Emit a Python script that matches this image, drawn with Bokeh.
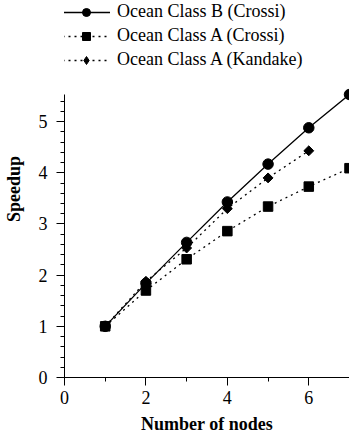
import math
from bokeh.plotting import figure
from bokeh.models import Legend, LegendItem, SingleIntervalTicker, Range1d
from bokeh.embed import file_html
from bokeh.resources import INLINE

nodes = [1, 2, 3, 4, 5, 6, 7]
b_crossi = [1.0, 1.84, 2.64, 3.43, 4.17, 4.88, 5.53]
a_crossi = [1.0, 1.70, 2.31, 2.86, 3.34, 3.73, 4.09]
nodes_k = [1, 2, 3, 4, 5, 6]
a_kandake = [1.0, 1.88, 2.53, 3.30, 3.90, 4.43]
y_axis_top = 5.53

FONT = "Liberation Serif"

p = figure(width=349, height=436, output_backend="svg", toolbar_location=None,
           x_range=Range1d(0, 7), y_range=Range1d(0, y_axis_top * 381 / 286),
           min_border_left=62, min_border_right=0, min_border_top=0, min_border_bottom=55)
p.outline_line_color = None
p.xgrid.visible = False
p.ygrid.visible = False

r1l = p.line(nodes, b_crossi, line_color="black", line_width=1.3)
r1m = p.scatter(nodes, b_crossi, marker="circle", size=10.5, color="black")
r2l = p.line(nodes, a_crossi, line_color="black", line_width=1.3, line_dash="2 4")
r2m = p.scatter(nodes, a_crossi, marker="square", size=9.5, color="black")
r3l = p.line(nodes_k, a_kandake, line_color="black", line_width=1.3, line_dash="2 4")
r3m = p.scatter(nodes_k, a_kandake, marker="square", size=7, angle=math.pi / 4, color="black")
# diamond glyph used only for the legend key (legend keys ignore marker angle)
r3k = p.scatter(nodes_k, a_kandake, marker="diamond", size=10, color="black", visible=False)

p.xaxis.ticker = SingleIntervalTicker(interval=2, num_minor_ticks=2)
p.yaxis.ticker = SingleIntervalTicker(interval=1, num_minor_ticks=5)
p.yaxis.bounds = (0, y_axis_top)
for ax in (p.xaxis[0], p.yaxis[0]):
    ax.axis_line_color = "black"
    ax.major_tick_line_color = "black"
    ax.minor_tick_line_color = "black"
    ax.major_tick_out = 8
    ax.major_tick_in = 0
    ax.minor_tick_out = 4
    ax.minor_tick_in = 0
    ax.major_label_text_font = FONT
    ax.major_label_text_font_size = "18px"
    ax.major_label_text_color = "black"
    ax.axis_label_text_font = FONT
    ax.axis_label_text_font_size = "18px"
    ax.axis_label_text_font_style = "bold"
    ax.axis_label_text_color = "black"
p.xaxis.axis_label = "Number of nodes"
p.yaxis.axis_label = "Speedup"
p.yaxis.major_label_standoff = 9
p.xaxis.major_label_standoff = 5
p.yaxis.axis_label_standoff = 12
p.xaxis.axis_label_standoff = 7

legend = Legend(items=[
    LegendItem(label="Ocean Class B (Crossi)", renderers=[r1l, r1m]),
    LegendItem(label="Ocean Class A (Crossi)", renderers=[r2l, r2m]),
    LegendItem(label="Ocean Class A (Kandake)", renderers=[r3l, r3k]),
], location=(-2, 307))
legend.padding = 0
legend.margin = 0
legend.border_line_color = None
legend.background_fill_alpha = 0
legend.inactive_fill_alpha = 0
legend.glyph_width = 48
legend.glyph_height = 20
legend.label_height = 20
legend.spacing = 3
legend.label_standoff = 7
legend.label_text_font = FONT
legend.label_text_font_size = "18px"
legend.label_text_color = "black"
p.add_layout(legend, "center")

open("out.html", "w").write(file_html(p, INLINE))
